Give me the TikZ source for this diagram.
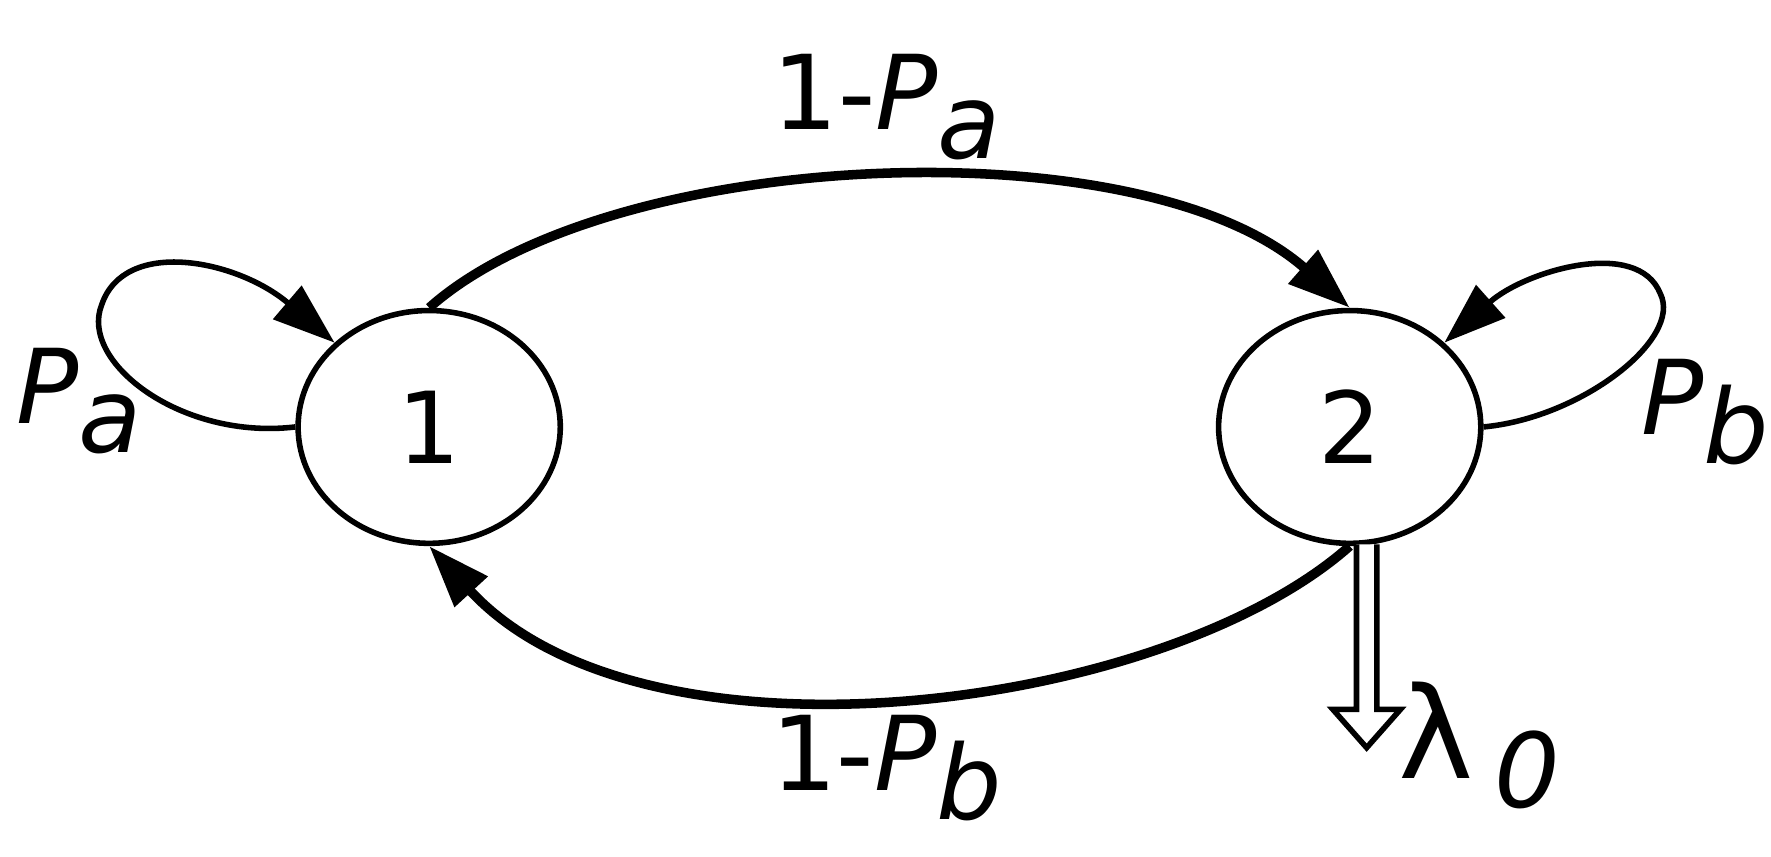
\documentclass[tikz,border=0pt]{standalone}
\usepackage{fontspec}
\setmainfont{DejaVu Sans}
\usetikzlibrary{arrows.meta,shapes.geometric}
\newcommand{\sbx}[1]{\raisebox{-0.28em}{\textit{#1}}}
\begin{document}
\begin{tikzpicture}[x=0.01cm,y=-0.01cm,
  st/.style={draw,ellipse,line width=1.4pt,minimum width=2.32cm,minimum height=2.06cm,inner sep=0pt,font=\fontsize{25}{28}\selectfont},
  lbl/.style={font=\fontsize{26}{30}\selectfont,inner sep=0pt},
  tip/.style={-{Triangle[length=0.55cm,width=0.38cm]}},
  thick arc/.style={tip,line width=2.4pt},
  thin arc/.style={tip,line width=1.4pt}]
\useasboundingbox (0,0) rectangle (1568,758);
\node[st] (n1) at (380,378) {1};
\node[st] (n2) at (1195,378) {2};
\draw[thick arc] (n1.north) .. controls (540,130) and (1010,110) .. (n2.north);
\draw[thick arc] (n2.south) .. controls (1030,630) and (570,690) .. (n1.south);
\draw[thin arc] (n1.west) .. controls (160,390) and (70,320) .. (90,270) .. controls (110,210) and (210,230) .. (n1.north west);
\draw[thin arc] (n2.east) .. controls (1400,370) and (1490,300) .. (1470,260) .. controls (1450,210) and (1350,240) .. (n2.north east);
\draw[line width=1.4pt,fill=white] (1201,482) -- (1201,628) -- (1180,628) -- (1210,662) -- (1240,628) -- (1219,628) -- (1219,482);
\node[lbl] (la) at (785,95) {1-\textit{P}\sbx{a}};
\node[lbl] (lb) at (785,680) {1-\textit{P}\sbx{b}};
\node[lbl] (pa) at (70,355) {\textit{P}\sbx{a}};
\node[lbl] (pb) at (1510,365) {\textit{P}\sbx{b}};
\node[lbl] (lam) at (1310,660) {\fontsize{32}{36}\selectfont λ\,\fontsize{26}{30}\selectfont\sbx{0}};
\end{tikzpicture}
\end{document}
